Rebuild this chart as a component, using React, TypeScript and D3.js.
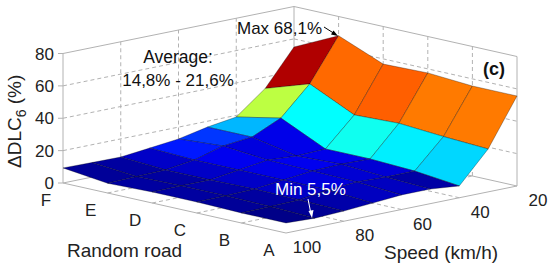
import React from "react";
import * as d3 from "d3";

const roads = ["A", "B", "C", "D", "E", "F"];
const speeds = [100, 90, 80, 70, 60, 50, 40, 30, 20];
const speedTicks = [100, 80, 60, 40, 20];
const zTicks = [0, 20, 40, 60, 80];

// DLC6 increase (%), one array per road, speed order as in `speeds`
const roadA = [6.2, 5.5, 6.3, 7.6, 9, 9, 7.3, 26.5, 55.6];
const roadB = [6.2, 6.5, 7, 9.5, 10.8, 10.2, 10.3, 28, 55.6];
const roadC = [6.8, 7, 7.5, 9.5, 11.4, 12, 11.6, 30, 57.5];
const roadD = [6.8, 7, 7, 9.5, 12, 10.9, 11.6, 29, 56.8];
const roadE = [6, 6.5, 7, 9.5, 14.5, 16.4, 24.5, 42, 68.1];
const roadF = [9.3, 9, 8.8, 10.7, 12.7, 16.4, 19, 33, 55];
const values = [roadA, roadB, roadC, roadD, roadE, roadF];

const FONT = "'Liberation Sans', Arial, sans-serif";
const AXIS = "#b2b2b2";
const INK = "#222";

const roadX = d3.scalePoint<string>().domain(roads).range([286, 63]);
const roadY = d3.scalePoint<string>().domain(roads).range([233, 183]);
const speedX = d3.scaleLinear().domain([100, 20]).range([0, 231]);
const speedY = d3.scaleLinear().domain([100, 20]).range([0, -47]);
const zY = d3.scaleLinear().domain([0, 80]).range([0, -129.5]);

const project = (road: string, speed: number, z: number): [number, number] => [
  roadX(road)! + speedX(speed),
  roadY(road)! + speedY(speed) + zY(z),
];

const jet = d3
  .scaleLinear<string>()
  .domain([0, 0.125, 0.375, 0.625, 0.875, 1])
  .range(["#000080", "#0000ff", "#00ffff", "#ffff00", "#ff0000", "#500000"]);
const colorT = d3.scaleLinear().domain([5, 13, 29, 57, 73]).range([0, 0.125, 0.375, 0.775, 1]);

const line = d3.line();

const Seg = ({ a, b, dash }: { a: [number, number]; b: [number, number]; dash?: boolean }) => (
  <line
    x1={a[0]}
    y1={a[1]}
    x2={b[0]}
    y2={b[1]}
    stroke={AXIS}
    strokeWidth={1}
    strokeDasharray={dash ? "4 3" : undefined}
  />
);

const Label = (props: any) => (
  <text fontFamily={FONT} fontSize={17} fill={INK} {...props} />
);

export default function App() {
  const F = "F";
  const A = "A";
  const faces: { d: string; fill: string; key: string }[] = [];
  // back to front
  for (let r = roads.length - 2; r >= 0; r--) {
    for (let k = speeds.length - 2; k >= 0; k--) {
      const pts = [
        project(roads[r + 1], speeds[k], values[r + 1][k]),
        project(roads[r + 1], speeds[k + 1], values[r + 1][k + 1]),
        project(roads[r], speeds[k + 1], values[r][k + 1]),
        project(roads[r], speeds[k], values[r][k]),
      ];
      faces.push({
        key: `${r}-${k}`,
        d: line(pts) + "Z",
        fill: jet(colorT(values[r][k + 1])),
      });
    }
  }

  return (
    <svg
      width={550}
      height={268}
      style={{ position: "absolute", left: 0, top: 0, background: "#fff" }}
    >
      {/* walls and floor grid */}
      {zTicks.slice(1, -1).map((z) => (
        <g key={z}>
          <Seg dash a={project(F, 100, z)} b={project(F, 20, z)} />
          <Seg dash a={project(F, 20, z)} b={project(A, 20, z)} />
        </g>
      ))}
      {speedTicks.slice(1, -1).map((s) => (
        <g key={s}>
          <Seg dash a={project(F, s, 0)} b={project(F, s, 80)} />
          <Seg dash a={project(A, s, 0)} b={project(F, s, 0)} />
        </g>
      ))}
      {roads.slice(1, -1).map((r) => (
        <g key={r}>
          <Seg dash a={project(r, 20, 0)} b={project(r, 20, 80)} />
          <Seg dash a={project(r, 100, 0)} b={project(r, 20, 0)} />
        </g>
      ))}

      {/* box */}
      <Seg a={project(F, 100, 0)} b={project(F, 100, 80)} />
      <Seg a={project(F, 20, 0)} b={project(F, 20, 80)} />
      <Seg a={project(A, 20, 0)} b={project(A, 20, 80)} />
      <Seg a={project(F, 100, 80)} b={project(F, 20, 80)} />
      <Seg a={project(F, 20, 80)} b={project(A, 20, 80)} />
      <Seg a={project(F, 100, 0)} b={project(F, 20, 0)} />
      <Seg a={project(F, 20, 0)} b={project(A, 20, 0)} />
      <Seg a={project(F, 100, 0)} b={project(A, 100, 0)} />
      <Seg a={project(A, 100, 0)} b={project(A, 20, 0)} />

      {/* ticks */}
      {zTicks.map((z) => {
        const [x, y] = project(F, 100, z);
        return <line key={z} x1={x - 5} x2={x} y1={y} y2={y} stroke={AXIS} />;
      })}

      {/* surface */}
      {faces.map((f) => (
        <path
          key={f.key}
          d={f.d}
          fill={f.fill}
          stroke="#000"
          strokeOpacity={0.5}
          strokeWidth={0.6}
          strokeLinejoin="round"
        />
      ))}

      {/* tick labels */}
      {zTicks.map((z) => {
        const [x, y] = project(F, 100, z);
        return (
          <Label key={z} x={x - 9} y={y + 6} textAnchor="end">
            {z}
          </Label>
        );
      })}
      {roads.map((r) => {
        const [x, y] = project(r, 100, 0);
        return (
          <Label key={r} x={x - 17} y={y + 23} textAnchor="middle">
            {r}
          </Label>
        );
      })}
      {speedTicks.map((s) => {
        const [x, y] = project(A, s, 0);
        return (
          <Label key={s} x={x + 21} y={y + 20} textAnchor="middle">
            {s}
          </Label>
        );
      })}

      {/* axis labels */}
      <Label x={67} y={257} fontSize={19}>
        Random road
      </Label>
      <Label x={384} y={259} fontSize={19}>
        Speed (km/h)
      </Label>
      <text
        transform="translate(21,168) rotate(-90)"
        fontFamily={FONT}
        fontSize={19}
        fill={INK}
      >
        ΔDLC
        <tspan fontSize={14} dy={5}>
          6
        </tspan>
        <tspan dy={-5}> (%)</tspan>
      </text>

      {/* annotations */}
      <Label x={178} y={63} textAnchor="middle" fontSize={17.5} fill="#111">
        Average:
      </Label>
      <Label x={178} y={86} textAnchor="middle" fontSize={17} fill="#111">
        14,8% - 21,6%
      </Label>
      <Label x={237} y={34} fill="#111">
        Max 68,1%
      </Label>
      <line x1={324} y1={27} x2={335} y2={34} stroke="#000" strokeWidth={1} />
      <path d="M338 36 L331 34.5 L333.5 30.5 Z" fill="#000" />
      <Label x={483} y={75} fontWeight="bold" fontSize={18} fill="#111">
        (c)
      </Label>
      <Label x={275} y={195} fill="#fff">
        Min 5,5%
      </Label>
      <line x1={308} y1={199} x2={311} y2={214} stroke="#fff" strokeWidth={1} />
      <path d="M312 218 L308.5 211 L313.5 210 Z" fill="#fff" />
    </svg>
  );
}
